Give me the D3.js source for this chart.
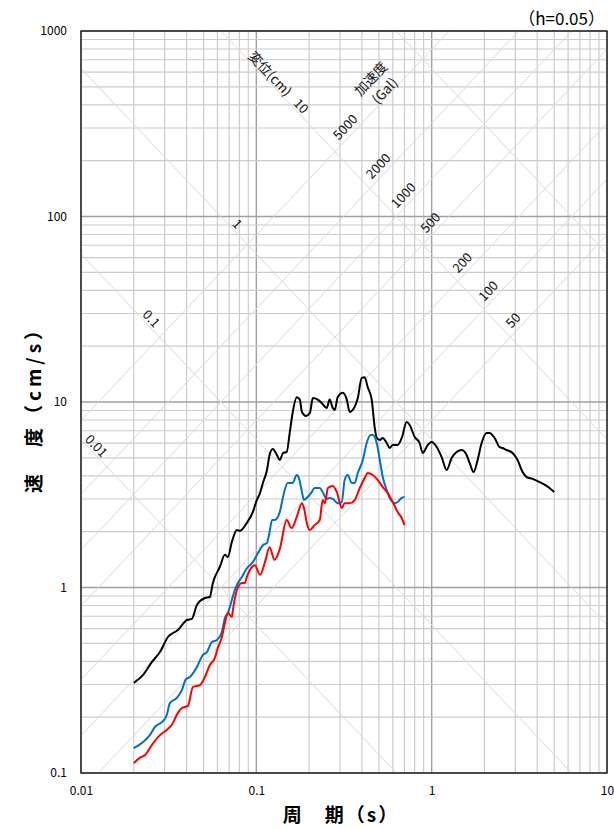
<!DOCTYPE html>
<html><head><meta charset="utf-8">
<script src="https://cdn.jsdelivr.net/npm/d3@7"></script>
<style>body{margin:0;background:#fff}svg{display:block}</style>
</head><body><svg id="c" width="614" height="829"></svg>
<script>
// ---------- data ----------
const periodsBlack=[0.020,0.0226,0.0254,0.0282,0.0313,0.0357,0.0402,0.0429,0.0458,0.0509,
0.0543,0.0565,0.0619,0.0662,0.0688,0.0725,0.0775,0.0805,0.0883,0.0955,
0.1006,0.105,0.109,0.115,0.119,0.124,0.131,0.136,0.142,0.149,
0.155,0.161,0.170,0.177,0.182,0.192,0.202,0.210,0.224,0.236,
0.252,0.262,0.273,0.280,0.291,0.311,0.328,0.341,0.355,0.379,
0.399,0.415,0.432,0.455,0.473,0.486,0.506,0.526,0.554,0.576,
0.600,0.640,0.675,0.720,0.749,0.800,0.854,0.889,0.949,1.000,
1.068,1.140,1.218,1.300,1.388,1.482,1.582,1.646,1.735,1.829,
1.927,2.058,2.140,2.286,2.440,2.539,2.675,2.894,3.090,3.300,
3.478,3.763,4.125,4.521,5.0];
const velBlack=[0.306,0.338,0.397,0.449,0.541,0.590,0.668,0.677,0.805,0.878,
0.889,1.058,1.29,1.50,1.46,1.76,2.04,2.02,2.23,2.55,
2.96,3.23,3.66,4.30,5.18,5.58,5.18,4.87,5.31,5.38,
6.81,8.72,10.6,10.3,8.83,8.41,8.72,10.5,10.3,9.88,
9.28,10.3,9.28,9.06,10.6,11.2,10.3,8.83,9.06,10.5,
13.5,13.6,12.0,10.3,7.33,6.40,6.24,6.40,6.01,5.65,
5.86,5.86,6.40,7.80,7.52,6.48,6.01,5.31,5.86,6.09,
5.72,5.05,4.30,4.99,5.38,5.51,5.18,4.69,4.19,4.87,
6.01,6.81,6.81,6.40,5.72,5.65,5.51,5.31,4.87,4.19,
3.94,3.85,3.70,3.53,3.27];
const periodsBlue=[0.020,0.0226,0.0247,0.0264,0.0289,0.0309,0.0321,0.0352,0.0376,0.0397,
0.0418,0.0458,0.0496,0.0522,0.0558,0.0596,0.0636,0.0662,0.0688,0.0725,
0.0754,0.0775,0.0827,0.0883,0.0955,0.102,0.109,0.115,0.119,0.123,
0.127,0.136,0.142,0.151,0.161,0.170,0.175,0.182,0.187,0.194,
0.207,0.215,0.230,0.239,0.252,0.262,0.273,0.291,0.307,0.319,
0.332,0.350,0.364,0.379,0.405,0.426,0.449,0.461,0.486,0.506,
0.526,0.554,0.576,0.616,0.640,0.675,0.700];
const velBlue=[0.136,0.147,0.160,0.177,0.188,0.206,0.238,0.254,0.280,0.321,
0.329,0.373,0.433,0.449,0.508,0.521,0.576,0.685,0.729,0.856,
0.969,1.032,1.14,1.27,1.37,1.53,1.69,1.74,1.99,2.31,
2.31,2.55,3.08,3.66,3.66,4.04,3.89,3.27,2.96,3.04,
3.27,3.44,3.44,3.27,3.00,3.04,3.00,2.85,2.89,3.80,
4.04,3.66,3.66,4.14,4.87,6.01,6.64,6.64,6.01,4.87,
3.94,3.35,3.04,2.85,2.89,3.04,3.08];
const periodsRed=[0.020,0.0217,0.0232,0.0254,0.0282,0.0309,0.0330,0.0357,0.0376,0.0407,
0.0435,0.0477,0.0509,0.0543,0.0580,0.0603,0.0636,0.0662,0.0688,0.0725,
0.0735,0.0775,0.0827,0.0860,0.0883,0.0943,0.0981,0.105,0.112,0.119,
0.127,0.136,0.149,0.159,0.170,0.182,0.187,0.194,0.202,0.215,
0.230,0.239,0.246,0.256,0.273,0.288,0.307,0.319,0.341,0.364,
0.389,0.415,0.432,0.461,0.492,0.526,0.561,0.600,0.640,0.675,
0.700];
const velRed=[0.113,0.121,0.125,0.142,0.160,0.171,0.182,0.211,0.224,0.230,
0.291,0.298,0.329,0.382,0.417,0.472,0.541,0.644,0.729,0.693,
0.756,0.969,1.058,1.058,1.14,1.29,1.32,1.17,1.37,1.65,
1.41,1.61,2.31,2.09,2.40,2.85,2.68,2.23,2.04,2.17,
2.31,2.96,2.85,3.44,3.53,3.27,2.68,2.85,2.85,2.96,
3.44,3.89,4.14,4.04,3.80,3.48,3.23,2.89,2.55,2.37,
2.17];
const xTickValues=[0.01,0.1,1,10];
const xTickLabels=["0.01","0.1","1","10"];
const yTickValues=[0.1,1,10,100,1000];
const yTickLabels=["0.1","1","10","100","1000"];
const dispLines=[0.01,0.1,1,10,100];          // cm
const dispLabels=["0.01","0.1","1","10"];
const accLines=[50,100,200,500,1000,2000,5000]; // Gal
const accLabels=["5000","2000","1000","500","200","100","50"];
// layout: period at which each diagonal label sits
const dispLabelT=[0.01234,0.0254,0.0785,0.1815];
const accLabelT=[0.319,0.492,0.684,0.974,1.482,2.085,2.894];

// ---------- chart ----------
const FONT='"Noto Sans CJK JP","Noto Sans",sans-serif';
const svg=d3.select("#c");
const L=81,R=607,T=31,B=773;
const x=d3.scaleLog().domain([0.01,10]).range([L,R]);
const y=d3.scaleLog().domain([0.1,1000]).range([B,T]);
const isDecade=v=>Math.abs(Math.log10(v)-Math.round(Math.log10(v)))<1e-6;

svg.append("defs").append("clipPath").attr("id","clip")
  .append("rect").attr("x",L).attr("y",T).attr("width",R-L).attr("height",B-T);

const grid=svg.append("g");
grid.selectAll(".vx").data(x.ticks()).join("line")
  .attr("x1",d=>x(d)).attr("x2",d=>x(d)).attr("y1",T).attr("y2",B)
  .attr("stroke",d=>isDecade(d)?"#a0a0a0":"#cccccc").attr("stroke-width",d=>isDecade(d)?1.4:1.2);
grid.selectAll(".hy").data(y.ticks()).join("line")
  .attr("y1",d=>y(d)).attr("y2",d=>y(d)).attr("x1",L).attr("x2",R)
  .attr("stroke",d=>isDecade(d)?"#a0a0a0":"#cccccc").attr("stroke-width",d=>isDecade(d)?1.4:1.2);

// diagonal lines
const TWO_PI=2*Math.PI;
const vDisp=(D,t)=>TWO_PI*D/t;
const vAcc=(A,t)=>A*t/TWO_PI;
const tSpan=[0.001,100];
const diag=svg.append("g").attr("clip-path","url(#clip)");
diag.selectAll(".dl").data(dispLines).join("line")
  .attr("x1",x(tSpan[0])).attr("x2",x(tSpan[1]))
  .attr("y1",d=>y(vDisp(d,tSpan[0]))).attr("y2",d=>y(vDisp(d,tSpan[1])))
  .attr("stroke","#d9d9d9").attr("stroke-width",1);
diag.selectAll(".al").data(accLines).join("line")
  .attr("x1",x(tSpan[0])).attr("x2",x(tSpan[1]))
  .attr("y1",d=>y(vAcc(d,tSpan[0]))).attr("y2",d=>y(vAcc(d,tSpan[1])))
  .attr("stroke","#d9d9d9").attr("stroke-width",1);

// angle of diagonals on screen
const ang=Math.atan2(y(1)-y(10),x(10)-x(1))*180/Math.PI;

const lab=svg.append("g").attr("font-family",FONT).attr("font-size",13).attr("fill","#111");
dispLabels.forEach((s,i)=>{
  const D=dispLines[i], t=dispLabelT[i];
  const cx=x(t), cy=y(vDisp(D,t))-11;
  lab.append("text").attr("transform",`translate(${cx},${cy}) rotate(${ang})`)
    .attr("text-anchor","middle").attr("dominant-baseline","central").text(s);
});
accLabels.forEach((s,i)=>{
  const A=+s, t=accLabelT[i];
  const cx=x(t), cy=y(vAcc(A,t))-15;
  lab.append("text").attr("transform",`translate(${cx},${cy}) rotate(${-ang})`)
    .attr("text-anchor","middle").attr("dominant-baseline","central").text(s);
});
const ttl=svg.append("g").attr("font-family",FONT).attr("font-size",13.5).attr("fill","#111");
ttl.append("text").attr("transform",`translate(271,73) rotate(${ang})`)
  .attr("text-anchor","middle").attr("dominant-baseline","central").text("変位(cm)");
ttl.append("text").attr("transform",`translate(370,78) rotate(${-ang})`)
  .attr("text-anchor","middle").attr("dominant-baseline","central").text("加速度");
ttl.append("text").attr("transform",`translate(384,90) rotate(${-ang})`)
  .attr("text-anchor","middle").attr("dominant-baseline","central").text("(Gal)");

// frame
svg.append("rect").attr("x",L).attr("y",T).attr("width",R-L).attr("height",B-T)
  .attr("fill","none").attr("stroke","#000").attr("stroke-width",1.2);

// axes
const ax=svg.append("g").attr("transform",`translate(0,${B})`)
  .call(d3.axisBottom(x).tickValues(xTickValues).tickSize(0).tickPadding(13)
    .tickFormat((d,i)=>xTickLabels[i]));
const ay=svg.append("g").attr("transform",`translate(${L},0)`)
  .call(d3.axisLeft(y).tickValues(yTickValues).tickSize(0).tickPadding(14)
    .tickFormat((d,i)=>yTickLabels[i]));
[ax,ay].forEach(g=>{g.select(".domain").remove();
  g.selectAll("text").attr("font-family",FONT).attr("font-size",12).attr("fill","#000");});

// series
const line=d3.line().x(d=>x(d[0])).y(d=>y(d[1])).curve(d3.curveMonotoneX);
const series=[
  {t:periodsBlack,v:velBlack,c:"#000000"},
  {t:periodsBlue,v:velBlue,c:"#0070C0"},
  {t:periodsRed,v:velRed,c:"#FF0000"}];
const sg=svg.append("g").attr("clip-path","url(#clip)");
series.forEach(s=>{
  sg.append("path").datum(s.t.map((t,i)=>[t,s.v[i]]))
    .attr("d",line).attr("fill","none").attr("stroke",s.c).attr("stroke-width",2)
    .attr("stroke-linejoin","round");
});

// titles
svg.append("text").attr("x",605).attr("y",25).attr("text-anchor","end")
  .attr("font-family",FONT).attr("font-size",17).text("（h=0.05）");
svg.append("text").attr("x",341).attr("y",822).attr("text-anchor","middle")
  .attr("font-family",FONT).attr("font-size",19).attr("font-weight","bold")
  .attr("letter-spacing",2).text("周　期（s）");
svg.append("text").attr("transform","translate(41,405) rotate(-90)").attr("text-anchor","middle")
  .attr("font-family",FONT).attr("font-size",19).attr("font-weight","bold")
  .attr("letter-spacing",4).text("速　度（cm/s）");
</script></body></html>
